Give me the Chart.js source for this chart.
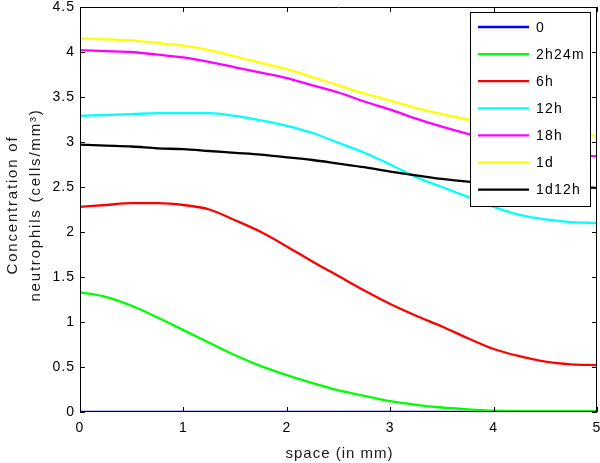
<!DOCTYPE html>
<html>
<head>
<meta charset="utf-8">
<script src="https://cdn.jsdelivr.net/npm/chart.js@4/dist/chart.umd.min.js"></script>
<style>
html,body{margin:0;padding:0;background:#fff;}
#wrap{width:600px;height:463px;}
</style>
</head>
<body>
<div id="wrap"><canvas id="c" width="600" height="463"></canvas></div>
<script>
const xValues = [0, 0.25, 0.5, 0.75, 1, 1.25, 1.5, 1.75, 2, 2.25, 2.5, 2.75, 3, 3.25, 3.5, 3.75, 4, 4.25, 4.5, 4.75, 5];
const seriesNames = ["0", "2h24m", "6h", "12h", "18h", "1d", "1d12h"];
const s0 =      [0,0,0,0,0,0,0,0,0,0,0,0,0,0,0,0,0,0,0,0,0];
const s2h24m =  [1.33,1.28,1.18,1.05,0.91,0.77,0.63,0.51,0.41,0.32,0.24,0.18,0.12,0.08,0.05,0.03,0.015,0.01,0.01,0.01,0.01];
const s6h =     [2.28,2.30,2.32,2.32,2.30,2.25,2.13,2.00,1.84,1.67,1.51,1.35,1.20,1.07,0.95,0.82,0.70,0.62,0.56,0.53,0.52];
const s12h =    [3.29,3.30,3.31,3.32,3.32,3.32,3.29,3.24,3.18,3.10,2.99,2.88,2.75,2.61,2.50,2.39,2.28,2.19,2.14,2.11,2.10];
const s18h =    [4.02,4.01,4.00,3.97,3.94,3.89,3.83,3.77,3.71,3.63,3.55,3.45,3.36,3.26,3.17,3.09,3.02,2.96,2.91,2.87,2.84];
const s1d =     [4.15,4.14,4.13,4.10,4.07,4.02,3.95,3.88,3.81,3.72,3.63,3.54,3.46,3.38,3.31,3.25,3.20,3.16,3.12,3.09,3.07];
const s1d12h =  [2.97,2.96,2.95,2.93,2.92,2.90,2.88,2.86,2.83,2.80,2.76,2.72,2.67,2.63,2.59,2.56,2.54,2.52,2.51,2.50,2.49];
const xTicks = [0, 1, 2, 3, 4, 5];
const yTicks = [0, 0.5, 1, 1.5, 2, 2.5, 3, 3.5, 4, 4.5];
const xTitle = 'space (in mm)';
const yTitle = ['Concentration of', 'neutrophils (cells/mm³)'];

const allSeries = [s0, s2h24m, s6h, s12h, s18h, s1d, s1d12h];
const colors = ["#0000ff", "#00ff00", "#ff0000", "#00ffff", "#ff00ff", "#ffff00", "#000000"];
const FONT = "'Liberation Sans', Arial, sans-serif";

const datasets = allSeries.map((s, i) => ({
  label: seriesNames[i],
  data: s.map((v, j) => ({x: xValues[j], y: v})),
  borderColor: colors[i],
  backgroundColor: colors[i],
  borderWidth: 2.3,
  pointRadius: 0,
  fill: false,
  cubicInterpolationMode: 'monotone',
  order: 10 - i
}));

const spacing = {
  id: 'spacing',
  afterInit(chart) { chart.ctx.letterSpacing = '1px'; },
  beforeUpdate(chart) { chart.ctx.letterSpacing = '1px'; },
  beforeDraw(chart) { chart.ctx.letterSpacing = '1px'; }
};

const frame = {
  id: 'frame',
  afterDatasetsDraw(chart) {
    const {ctx, chartArea: a, scales: {x, y}} = chart;
    ctx.save();
    ctx.strokeStyle = '#000';
    ctx.lineWidth = 1;
    ctx.beginPath();
    ctx.rect(Math.round(a.left) + 0.5, Math.round(a.top) + 0.5, Math.round(a.right - a.left) - 1, Math.round(a.bottom - a.top) - 1);
    ctx.stroke();
    const tl = 5;
    ctx.beginPath();
    xTicks.forEach(v => {
      const px = Math.round(x.getPixelForValue(v)) + 0.5;
      ctx.moveTo(px, a.bottom); ctx.lineTo(px, a.bottom - tl);
      ctx.moveTo(px, a.top); ctx.lineTo(px, a.top + tl);
    });
    yTicks.forEach(v => {
      const py = Math.round(y.getPixelForValue(v)) + 0.5;
      ctx.moveTo(a.left, py); ctx.lineTo(a.left + tl, py);
      ctx.moveTo(a.right, py); ctx.lineTo(a.right - tl, py);
    });
    ctx.stroke();
    ctx.restore();
  },
  afterDraw(chart) {
    const {ctx, chartArea: a} = chart;
    ctx.save();
    // axis titles
    ctx.fillStyle = '#1a1a1a';
    ctx.font = '15px ' + FONT;
    ctx.letterSpacing = '1px';
    ctx.textAlign = 'center';
    ctx.textBaseline = 'alphabetic';
    ctx.fillText(xTitle, (a.left + a.right) / 2 + 1, 458);
    ctx.save();
    ctx.letterSpacing = '1.8px';
    ctx.translate(0, 205);
    ctx.rotate(-Math.PI / 2);
    ctx.textBaseline = 'alphabetic';
    ctx.fillText(yTitle[0], 0, 17);
    ctx.fillText(yTitle[1], 0, 40);
    ctx.restore();
    // legend
    const bw = 120, bh = 194;
    const bx = Math.round(a.right - 7 - bw), by = Math.round(a.top + 5);
    ctx.fillStyle = '#fff';
    ctx.fillRect(bx, by, bw, bh);
    ctx.strokeStyle = '#000';
    ctx.lineWidth = 1;
    ctx.strokeRect(bx + 0.5, by + 0.5, bw, bh);
    ctx.font = '14px ' + FONT;
    ctx.letterSpacing = '1.2px';
    ctx.textAlign = 'left';
    ctx.textBaseline = 'middle';
    ctx.fillStyle = '#000';
    chart.data.datasets.forEach((d, i) => {
      const ly = by + 15 + i * 27.1;
      ctx.strokeStyle = d.borderColor;
      ctx.lineWidth = 2.3;
      ctx.beginPath();
      ctx.moveTo(bx + 8, ly); ctx.lineTo(bx + 59, ly);
      ctx.stroke();
      ctx.fillText(d.label, bx + 66, ly + 1);
    });
    ctx.restore();
  }
};

new Chart(document.getElementById('c'), {
  type: 'line',
  data: { datasets },
  plugins: [spacing, frame],
  options: {
    responsive: false,
    animation: false,
    layout: { padding: { top: 7, right: 3, left: 0, bottom: 0 } },
    plugins: { legend: { display: false }, tooltip: { enabled: false } },
    scales: {
      x: {
        type: 'linear', min: 0, max: 5,
        afterFit(s) { s.height = 51; s.paddingLeft = 0; s.paddingRight = 0; },
        afterBuildTicks(s) { s.ticks = xTicks.map(v => ({value: v})); },
        grid: { display: false, drawTicks: false },
        border: { display: false },
        ticks: { color: '#000', font: { family: FONT, size: 14 }, padding: 8, maxRotation: 0, callback: v => String(v) },
        title: { display: false }
      },
      y: {
        type: 'linear', min: 0, max: 4.5,
        afterFit(s) { s.width = 80; s.paddingTop = 0; s.paddingBottom = 0; },
        afterBuildTicks(s) { s.ticks = yTicks.map(v => ({value: v})); },
        grid: { display: false, drawTicks: false },
        border: { display: false },
        ticks: { color: '#000', font: { family: FONT, size: 14 }, padding: 5, callback: v => String(v) },
        title: { display: false }
      }
    }
  }
});
</script>
</body>
</html>
